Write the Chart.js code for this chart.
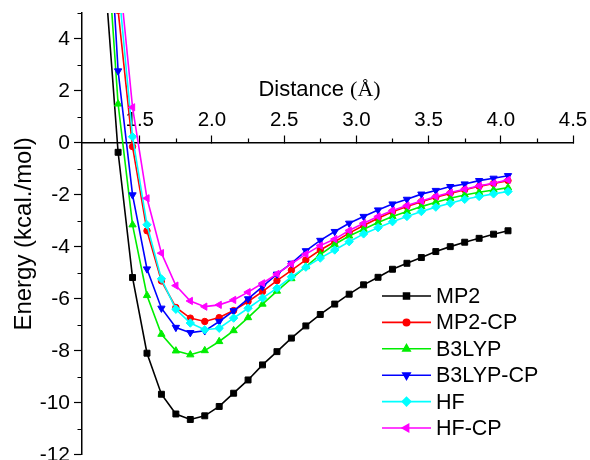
<!DOCTYPE html>
<html><head><meta charset="utf-8">
<script src="https://cdn.jsdelivr.net/npm/chart.js@4.4.1/dist/chart.umd.min.js"></script>
<style>html,body{margin:0;padding:0;background:#fff;}#wrap{width:590px;height:460px;}</style>
</head><body>
<div id="wrap"><canvas id="c" width="590" height="460"></canvas></div>
<script>
// ---- data ----
const DISTANCE = [1.25,1.35,1.45,1.55,1.65,1.75,1.85,1.95,2.05,2.15,2.25,2.35,2.45,2.55,2.65,2.75,2.85,2.95,3.05,3.15,3.25,3.35,3.45,3.55,3.65,3.75,3.85,3.95,4.05];
const MP2      = [7.1,-0.36,-5.18,-8.09,-9.67,-10.43,-10.64,-10.5,-10.14,-9.63,-9.12,-8.54,-8.03,-7.51,-7.04,-6.6,-6.2,-5.82,-5.46,-5.17,-4.86,-4.63,-4.41,-4.18,-3.99,-3.82,-3.67,-3.51,-3.38];
const MP2_CP   = [null,5.1,-0.14,-3.38,-5.31,-6.33,-6.74,-6.87,-6.72,-6.45,-6.1,-5.72,-5.3,-4.9,-4.5,-4.12,-3.8,-3.47,-3.18,-2.9,-2.65,-2.45,-2.26,-2.09,-1.94,-1.8,-1.67,-1.56,-1.45];
const B3LYP    = [9.6,1.5,-3.15,-5.87,-7.36,-8.0,-8.15,-7.99,-7.64,-7.22,-6.72,-6.2,-5.7,-5.22,-4.76,-4.3,-3.9,-3.58,-3.32,-3.06,-2.83,-2.64,-2.45,-2.28,-2.13,-2.0,-1.9,-1.81,-1.72];
const B3LYP_CP = [12.2,2.77,-2.0,-4.85,-6.36,-7.1,-7.3,-7.23,-6.87,-6.46,-6.0,-5.53,-5.05,-4.63,-4.15,-3.75,-3.41,-3.09,-2.83,-2.58,-2.35,-2.17,-1.97,-1.83,-1.68,-1.58,-1.45,-1.36,-1.26];
const HF       = [null,6.2,0.24,-3.15,-5.23,-6.4,-6.93,-7.19,-7.13,-6.74,-6.36,-5.97,-5.59,-5.15,-4.78,-4.43,-4.12,-3.8,-3.5,-3.26,-3.03,-2.83,-2.64,-2.47,-2.32,-2.17,-2.06,-1.96,-1.87];
const HF_CP    = [null,7.0,1.37,-2.13,-4.24,-5.49,-6.08,-6.3,-6.23,-6.04,-5.74,-5.4,-5.04,-4.65,-4.28,-3.95,-3.7,-3.37,-3.09,-2.83,-2.6,-2.41,-2.23,-2.06,-1.91,-1.78,-1.65,-1.55,-1.42];
const SERIES_NAMES = ['MP2','MP2-CP','B3LYP','B3LYP-CP','HF','HF-CP'];
const X_TICKS = [1.5,2.0,2.5,3.0,3.5,4.0,4.5];
const X_MINOR = [1.25,1.75,2.25,2.75,3.25,3.75,4.25];
const Y_TICKS = [-12,-10,-8,-6,-4,-2,0,2,4];
const Y_MINOR = [-11,-9,-7,-5,-3,-1,1,3,5];
const X_TITLE = 'Distance ';
const X_UNIT = '(Å)';
const Y_TITLE = 'Energy (kcal./mol)';

// ---- styles ----
const SERIES_VALUES = [MP2, MP2_CP, B3LYP, B3LYP_CP, HF, HF_CP];
const STYLES = [
  {color:'#000000', pointStyle:'rect',     radius:4.2, rotation:0},
  {color:'#ff0000', pointStyle:'circle',   radius:3.2, rotation:0},
  {color:'#00ee00', pointStyle:'triangle', radius:4.2, rotation:0},
  {color:'#0000ff', pointStyle:'triangle', radius:4.2, rotation:180},
  {color:'#00ffff', pointStyle:'rectRot',  radius:4.2, rotation:0},
  {color:'#ff00ff', pointStyle:'triangle', radius:4.2, rotation:-90},
];
const SANS = "'Liberation Sans', Arial, sans-serif";
const SERIF = "'Liberation Serif', 'Times New Roman', serif";

const datasets = SERIES_NAMES.map((name, i) => ({
  label: name,
  data: DISTANCE.map((d, k) => ({x: d, y: SERIES_VALUES[i][k]})),
  borderColor: STYLES[i].color,
  backgroundColor: STYLES[i].color,
  pointBackgroundColor: STYLES[i].color,
  pointBorderColor: STYLES[i].color,
  pointStyle: STYLES[i].pointStyle,
  pointRadius: STYLES[i].radius,
  pointRotation: STYLES[i].rotation,
  pointBorderWidth: 1,
  borderWidth: 1.6,
  tension: 0,
  spanGaps: false,
  order: SERIES_NAMES.length - i
}));

function drawMarker(ctx, st, x, y) {
  if (Chart.helpers && Chart.helpers.drawPoint) {
    Chart.helpers.drawPoint(ctx, {pointStyle: st.pointStyle, radius: st.radius, rotation: st.rotation, borderWidth: 1}, x, y);
  } else {
    ctx.beginPath(); ctx.arc(x, y, st.radius, 0, Math.PI*2); ctx.fill();
  }
}

const extras = {
  id: 'extras',
  afterDraw(chart) {
    const ctx = chart.ctx;
    const xs = chart.scales.x, ys = chart.scales.y;
    const ca = chart.chartArea;
    const y0 = Math.round(ys.getPixelForValue(0));
    ctx.save();
    // minor ticks
    ctx.strokeStyle = '#000'; ctx.lineWidth = 1.2;
    ctx.beginPath();
    X_MINOR.forEach(v => { const px = Math.round(xs.getPixelForValue(v)) + 0.5; ctx.moveTo(px, y0); ctx.lineTo(px, y0 - 4.5); });
    Y_MINOR.forEach(v => { const py = Math.round(ys.getPixelForValue(v)) + 0.5; ctx.moveTo(ca.left, py); ctx.lineTo(ca.left - 4.5, py); });
    ctx.stroke();
    // x axis title
    ctx.fillStyle = '#000';
    ctx.textBaseline = 'alphabetic';
    ctx.font = '22px ' + SANS;
    const w1 = ctx.measureText(X_TITLE).width;
    ctx.font = '22px ' + SERIF;
    const w2 = ctx.measureText(X_UNIT).width;
    const cx = (ca.left + ca.right) / 2 - 8;
    const bx = cx - (w1 + w2) / 2;
    const by = y0 - 47;
    ctx.font = '22px ' + SANS;
    ctx.textAlign = 'left';
    ctx.fillText(X_TITLE, bx, by);
    ctx.font = '22px ' + SERIF;
    ctx.fillText(X_UNIT, bx + w1, by);
    // legend
    const lx1 = ca.left + 300, lx2 = ca.left + 349, tx = ca.left + 354;
    SERIES_NAMES.forEach((name, i) => {
      const st = STYLES[i];
      const ly = y0 + 153 + i * 26.4;
      ctx.strokeStyle = st.color; ctx.fillStyle = st.color; ctx.lineWidth = 1.6;
      ctx.beginPath(); ctx.moveTo(lx1, ly); ctx.lineTo(lx2, ly); ctx.stroke();
      drawMarker(ctx, st, (lx1 + lx2) / 2, ly);
      ctx.fillStyle = '#000';
      ctx.font = '21.5px ' + SANS;
      ctx.textAlign = 'left'; ctx.textBaseline = 'middle';
      ctx.fillText(name, tx, ly + 1);
    });
    ctx.restore();
  }
};

new Chart(document.getElementById('c'), {
  type: 'line',
  data: { datasets },
  plugins: [extras],
  options: {
    responsive: false,
    animation: false,
    devicePixelRatio: 1,
    layout: { padding: { top: 13, right: 17, bottom: 5, left: 0 } },
    plugins: { legend: { display: false }, tooltip: { enabled: false } },
    scales: {
      x: {
        type: 'linear',
        min: 1.1, max: 4.5,
        position: { y: 0 },
        afterBuildTicks: s => { s.ticks = X_TICKS.map(v => ({value: v})); },
        afterFit: s => { s.paddingLeft = 0; s.paddingRight = 0; },
        grid: { drawOnChartArea: false, drawTicks: true, tickLength: -8, color: '#000', tickColor: '#000', tickWidth: 1.2 },
        border: { display: true, color: '#000', width: 1.5 },
        ticks: { color: '#000', font: { family: SANS, size: 20.5 }, padding: -27, maxRotation: 0, autoSkip: false,
                 callback: v => Number(v).toFixed(1) }
      },
      y: {
        type: 'linear',
        min: -12, max: 5,
        position: 'left',
        afterBuildTicks: s => { s.ticks = Y_TICKS.map(v => ({value: v})); },
        afterFit: s => { s.width = 82; s.paddingTop = 0; s.paddingBottom = 0; },
        grid: { drawOnChartArea: false, drawTicks: true, tickLength: 8, color: '#000', tickColor: '#000', tickWidth: 1.2 },
        border: { display: true, color: '#000', width: 1.5 },
        ticks: { color: '#000', font: { family: SANS, size: 21 }, padding: 4, autoSkip: false,
                 callback: v => String(v) },
        title: { display: true, text: Y_TITLE, color: '#000', font: { family: SANS, size: 24 }, padding: { top: 10, bottom: 0 } }
      }
    }
  }
});
</script>
</body></html>
